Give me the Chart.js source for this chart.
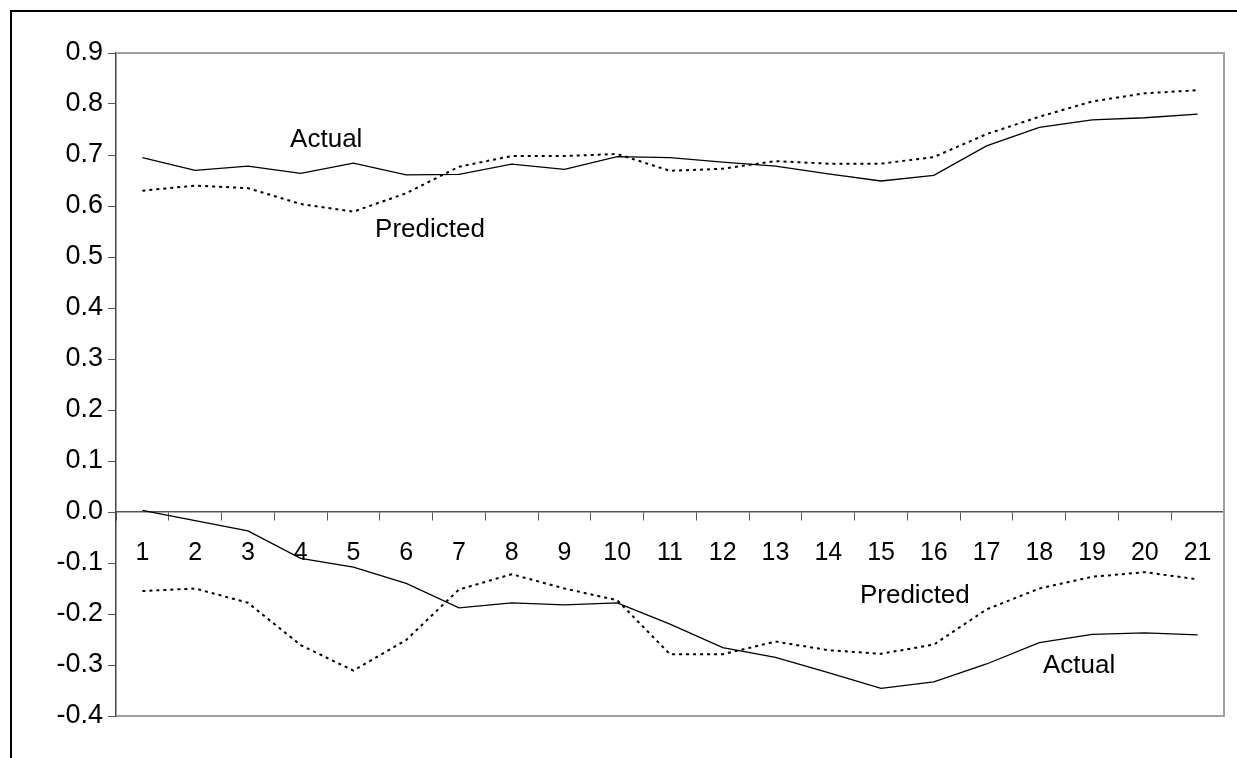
<!DOCTYPE html>
<html>
<head>
<meta charset="utf-8">
<script src="https://cdn.jsdelivr.net/npm/chart.js@4.4.1/dist/chart.umd.min.js"></script>
<style>
  html, body { margin: 0; padding: 0; background: #fff; }
  #c { display: block; }
</style>
</head>
<body>
<canvas id="c" width="1237" height="758"></canvas>
<script>
// ---- data ----
const categories = ['1','2','3','4','5','6','7','8','9','10','11','12','13','14','15','16','17','18','19','20','21'];
const topActual =    [0.695,0.670,0.678,0.664,0.684,0.661,0.662,0.682,0.672,0.697,0.695,0.686,0.678,0.663,0.649,0.660,0.718,0.754,0.769,0.773,0.780];
const topPredicted = [0.630,0.640,0.635,0.604,0.589,0.625,0.677,0.698,0.698,0.702,0.669,0.673,0.688,0.683,0.683,0.696,0.741,0.775,0.805,0.821,0.827];
const bottomActual =    [0.003,-0.017,-0.037,-0.091,-0.108,-0.140,-0.188,-0.178,-0.182,-0.178,-0.220,-0.266,-0.285,-0.315,-0.346,-0.333,-0.298,-0.256,-0.240,-0.237,-0.241];
const bottomPredicted = [-0.155,-0.150,-0.178,-0.261,-0.311,-0.251,-0.152,-0.122,-0.150,-0.173,-0.279,-0.279,-0.254,-0.271,-0.278,-0.260,-0.191,-0.150,-0.127,-0.118,-0.132];
const yMin = -0.4, yMax = 0.9, yStep = 0.1;
// text labels: [text, category position (index), value]
const labelTexts = ['Actual','Predicted','Predicted','Actual'];
const labelIdx =   [2.80, 4.41, 13.60, 17.07];
const labelVal =   [0.716, 0.539, -0.178, -0.316];

const FONT = "'Liberation Sans', Arial, Helvetica, sans-serif";
Chart.defaults.font.family = FONT;
Chart.defaults.color = '#000';

const decor = {
  id: 'decor',
  afterDraw(chart) {
    const ctx = chart.ctx, a = chart.chartArea;
    ctx.save();
    // plot border (top, right, bottom)
    ctx.strokeStyle = '#a0a0a0';
    ctx.lineWidth = 2;
    ctx.beginPath();
    ctx.moveTo(a.left, a.top);
    ctx.lineTo(a.right, a.top);
    ctx.lineTo(a.right, a.bottom);
    ctx.lineTo(a.left, a.bottom);
    ctx.stroke();
    // outer frame (left and top)
    ctx.strokeStyle = '#000';
    ctx.lineWidth = 2;
    ctx.beginPath();
    ctx.moveTo(11, 758);
    ctx.lineTo(11, 11);
    ctx.lineTo(1237, 11);
    ctx.stroke();
    // series labels
    const xs = chart.scales.x, ys = chart.scales.y;
    ctx.fillStyle = '#000';
    ctx.font = '26px ' + FONT;
    ctx.textAlign = 'left';
    ctx.textBaseline = 'alphabetic';
    for (let i = 0; i < labelTexts.length; i++) {
      ctx.fillText(labelTexts[i], xs.getPixelForValue(labelIdx[i]), ys.getPixelForValue(labelVal[i]));
    }
    ctx.restore();
  }
};

const solid = { borderColor: '#000', borderWidth: 1.3, pointRadius: 0, tension: 0, fill: false };
const dotted = { borderColor: '#000', borderWidth: 2, borderDash: [3, 4], pointRadius: 0, tension: 0, fill: false };

new Chart(document.getElementById('c'), {
  type: 'line',
  data: {
    labels: categories,
    datasets: [
      Object.assign({ label: 'Actual', data: topActual }, solid),
      Object.assign({ label: 'Predicted', data: topPredicted }, dotted),
      Object.assign({ label: 'Actual (lower)', data: bottomActual }, solid),
      Object.assign({ label: 'Predicted (lower)', data: bottomPredicted }, dotted)
    ]
  },
  options: {
    responsive: false,
    animation: false,
    devicePixelRatio: 1,
    layout: { padding: { left: 0, top: 53, right: 13, bottom: 42 } },
    plugins: { legend: { display: false }, tooltip: { enabled: false }, title: { display: false } },
    scales: {
      x: {
        type: 'category',
        position: { y: 0 },
        offset: true,
        grid: { offset: true, drawOnChartArea: false, drawTicks: true, tickLength: 8, color: '#555', lineWidth: 1 },
        border: { display: true, color: '#555', width: 1.5 },
        ticks: { font: { size: 25 }, color: '#000', padding: 18, maxRotation: 0, autoSkip: false },
        afterFit(scale) { scale.height = 0; }
      },
      y: {
        type: 'linear',
        position: 'left',
        min: yMin,
        max: yMax,
        grid: { drawOnChartArea: false, drawTicks: true, tickLength: 8, color: '#555', lineWidth: 1 },
        border: { display: true, color: '#444', width: 1.5 },
        ticks: {
          stepSize: yStep,
          font: { size: 27 },
          color: '#000',
          padding: 5,
          callback(v) { const r = Math.round(v * 10); return r === 0 ? '0.0' : (r / 10).toFixed(1); }
        },
        afterFit(scale) { scale.width = 116; }
      }
    }
  },
  plugins: [decor]
});
</script>
</body>
</html>
